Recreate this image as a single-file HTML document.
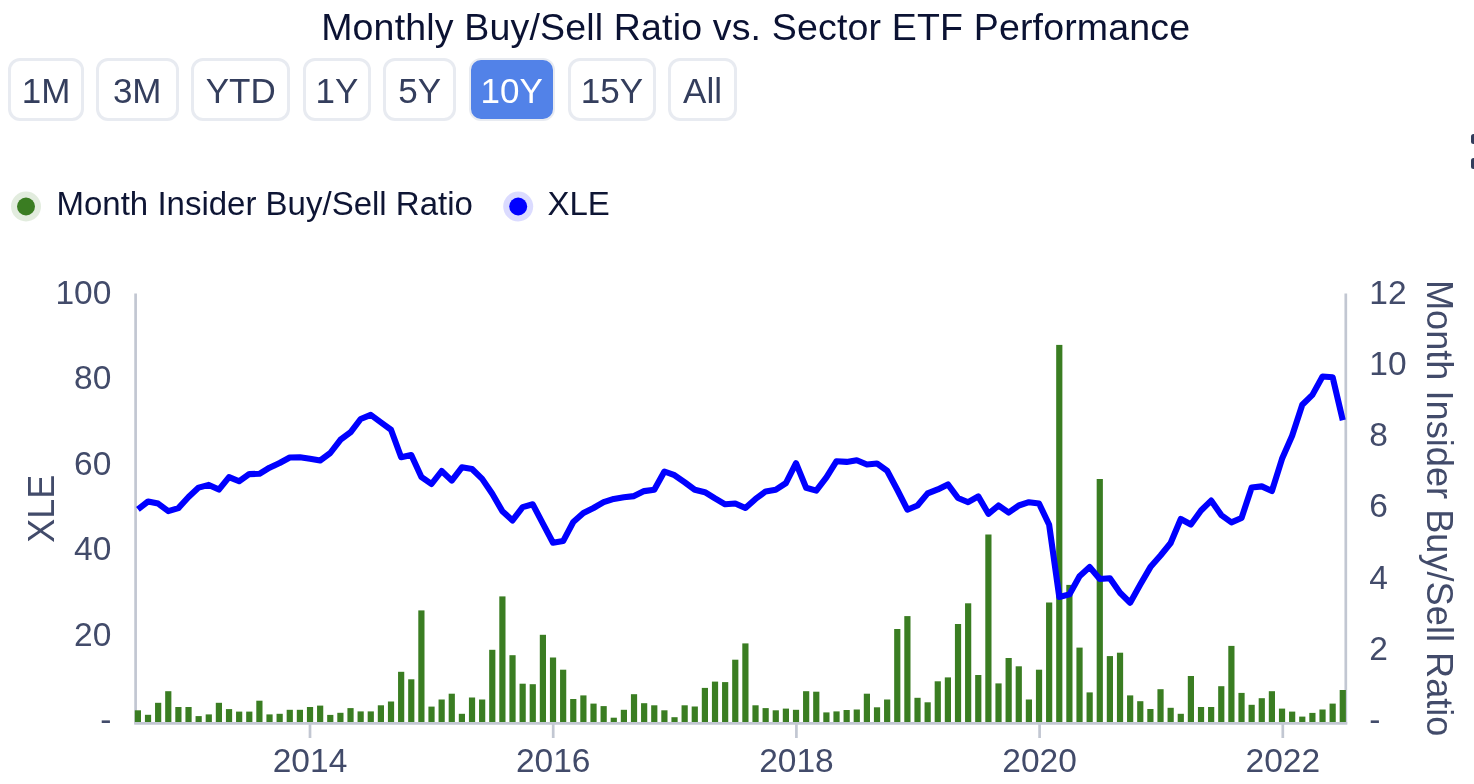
<!DOCTYPE html>
<html><head><meta charset="utf-8"><style>
html,body{margin:0;padding:0;background:#fff;width:1474px;height:784px;overflow:hidden;}
body{position:relative;font-family:"Liberation Sans", sans-serif;}
.btn{position:absolute;top:58.3px;height:63px;box-sizing:border-box;border:3px solid #e8ebf1;border-radius:12px;background:#fff;color:#343e5d;font-size:35px;text-align:center;}
.btn.act{background:#5282e8;color:#fff;border-width:2.2px;}
.hb{position:absolute;left:1471px;width:8px;height:10.5px;background:#333d5c;border-radius:2.5px;}
svg{position:absolute;left:0;top:0;will-change:transform;}
</style></head><body>
<div class="btn" style="left:8px;width:76.0px"></div><div class="btn" style="left:96px;width:82.5px"></div><div class="btn" style="left:191px;width:99.4px"></div><div class="btn" style="left:303.2px;width:67.4px"></div><div class="btn" style="left:383.4px;width:72.4px"></div><div class="btn act" style="left:468.6px;width:86.1px"></div><div class="btn" style="left:568.3px;width:87.3px"></div><div class="btn" style="left:668px;width:69.0px"></div>
<div class="hb" style="top:133.8px"></div>
<div class="hb" style="top:158.2px"></div>
<svg width="1474" height="784" viewBox="0 0 1474 784" font-family='"Liberation Sans", sans-serif'>
<text x="321.2" y="39.7" font-size="37.5" fill="#0b1233" letter-spacing="0.17">Monthly Buy/Sell Ratio vs. Sector ETF Performance</text>
<g font-size="35"><text x="46.0" y="103.0" text-anchor="middle" fill="#343e5d">1M</text><text x="137.2" y="103.0" text-anchor="middle" fill="#343e5d">3M</text><text x="240.7" y="103.0" text-anchor="middle" fill="#343e5d">YTD</text><text x="336.9" y="103.0" text-anchor="middle" fill="#343e5d">1Y</text><text x="419.6" y="103.0" text-anchor="middle" fill="#343e5d">5Y</text><text x="511.7" y="103.0" text-anchor="middle" fill="#ffffff">10Y</text><text x="612.0" y="103.0" text-anchor="middle" fill="#343e5d">15Y</text><text x="702.5" y="103.0" text-anchor="middle" fill="#343e5d">All</text></g>
<g>
<circle cx="26" cy="206.5" r="15" fill="#3a7d22" fill-opacity="0.15"/>
<circle cx="26" cy="206.5" r="9" fill="#3a7d22"/>
<text x="56.5" y="215.3" font-size="33" fill="#0e1534">Month Insider Buy/Sell Ratio</text>
<circle cx="518.2" cy="206.5" r="15" fill="#0000ff" fill-opacity="0.14"/>
<circle cx="518.2" cy="206.5" r="9" fill="#0000ff"/>
<text x="547.5" y="215.3" font-size="33" fill="#0e1534">XLE</text>
</g>
<g stroke="#c2c7d2" stroke-width="2.7">
<line x1="135.6" y1="293.5" x2="135.6" y2="723.8"/>
<line x1="1345.8" y1="293.5" x2="1345.8" y2="723.8"/>
<line x1="134.2" y1="723.4" x2="1347.3" y2="723.4" stroke-width="2.7"/>
<line x1="310.0" y1="722" x2="310.0" y2="738" stroke-width="2.7"/><line x1="553.2" y1="722" x2="553.2" y2="738" stroke-width="2.7"/><line x1="796.4" y1="722" x2="796.4" y2="738" stroke-width="2.7"/><line x1="1039.6" y1="722" x2="1039.6" y2="738" stroke-width="2.7"/><line x1="1282.8" y1="722" x2="1282.8" y2="738" stroke-width="2.7"/>
</g>
<g fill="#3a7d22"><rect x="134.80" y="710.3" width="6.2" height="11.7"/><rect x="144.93" y="714.8" width="6.2" height="7.2"/><rect x="155.05" y="702.8" width="6.2" height="19.2"/><rect x="165.18" y="691.2" width="6.2" height="30.8"/><rect x="175.30" y="707.0" width="6.2" height="15.0"/><rect x="185.43" y="707.0" width="6.2" height="15.0"/><rect x="195.55" y="716.1" width="6.2" height="5.9"/><rect x="205.68" y="714.4" width="6.2" height="7.6"/><rect x="215.80" y="702.8" width="6.2" height="19.2"/><rect x="225.93" y="709.1" width="6.2" height="12.9"/><rect x="236.05" y="711.6" width="6.2" height="10.4"/><rect x="246.18" y="711.6" width="6.2" height="10.4"/><rect x="256.30" y="700.7" width="6.2" height="21.3"/><rect x="266.42" y="714.4" width="6.2" height="7.6"/><rect x="276.55" y="713.8" width="6.2" height="8.2"/><rect x="286.67" y="709.8" width="6.2" height="12.2"/><rect x="296.80" y="709.8" width="6.2" height="12.2"/><rect x="306.92" y="707.0" width="6.2" height="15.0"/><rect x="317.05" y="705.6" width="6.2" height="16.4"/><rect x="327.17" y="714.9" width="6.2" height="7.1"/><rect x="337.30" y="712.8" width="6.2" height="9.2"/><rect x="347.42" y="708.1" width="6.2" height="13.9"/><rect x="357.55" y="711.4" width="6.2" height="10.6"/><rect x="367.67" y="711.4" width="6.2" height="10.6"/><rect x="377.80" y="705.3" width="6.2" height="16.7"/><rect x="387.92" y="701.5" width="6.2" height="20.5"/><rect x="398.05" y="671.8" width="6.2" height="50.2"/><rect x="408.17" y="679.3" width="6.2" height="42.7"/><rect x="418.30" y="610.4" width="6.2" height="111.6"/><rect x="428.42" y="706.6" width="6.2" height="15.4"/><rect x="438.55" y="699.5" width="6.2" height="22.5"/><rect x="448.67" y="693.7" width="6.2" height="28.3"/><rect x="458.80" y="713.8" width="6.2" height="8.2"/><rect x="468.92" y="697.5" width="6.2" height="24.5"/><rect x="479.05" y="699.5" width="6.2" height="22.5"/><rect x="489.17" y="649.8" width="6.2" height="72.2"/><rect x="499.30" y="596.4" width="6.2" height="125.6"/><rect x="509.42" y="655.2" width="6.2" height="66.8"/><rect x="519.55" y="683.7" width="6.2" height="38.3"/><rect x="529.67" y="684.2" width="6.2" height="37.8"/><rect x="539.80" y="634.8" width="6.2" height="87.2"/><rect x="549.92" y="657.5" width="6.2" height="64.5"/><rect x="560.05" y="669.7" width="6.2" height="52.3"/><rect x="570.17" y="699.0" width="6.2" height="23.0"/><rect x="580.30" y="695.4" width="6.2" height="26.6"/><rect x="590.42" y="703.6" width="6.2" height="18.4"/><rect x="600.55" y="706.1" width="6.2" height="15.9"/><rect x="610.67" y="717.7" width="6.2" height="4.3"/><rect x="620.80" y="709.8" width="6.2" height="12.2"/><rect x="630.92" y="694.2" width="6.2" height="27.8"/><rect x="641.05" y="703.2" width="6.2" height="18.8"/><rect x="651.17" y="705.3" width="6.2" height="16.7"/><rect x="661.30" y="710.3" width="6.2" height="11.7"/><rect x="671.42" y="717.2" width="6.2" height="4.8"/><rect x="681.55" y="705.3" width="6.2" height="16.7"/><rect x="691.67" y="706.5" width="6.2" height="15.5"/><rect x="701.80" y="687.9" width="6.2" height="34.1"/><rect x="711.92" y="681.6" width="6.2" height="40.4"/><rect x="722.05" y="682.1" width="6.2" height="39.9"/><rect x="732.17" y="659.7" width="6.2" height="62.3"/><rect x="742.30" y="643.4" width="6.2" height="78.6"/><rect x="752.42" y="705.3" width="6.2" height="16.7"/><rect x="762.55" y="708.1" width="6.2" height="13.9"/><rect x="772.67" y="710.3" width="6.2" height="11.7"/><rect x="782.80" y="708.6" width="6.2" height="13.4"/><rect x="792.92" y="709.8" width="6.2" height="12.2"/><rect x="803.05" y="691.2" width="6.2" height="30.8"/><rect x="813.17" y="691.7" width="6.2" height="30.3"/><rect x="823.30" y="712.4" width="6.2" height="9.6"/><rect x="833.42" y="711.4" width="6.2" height="10.6"/><rect x="843.55" y="710.0" width="6.2" height="12.0"/><rect x="853.67" y="709.5" width="6.2" height="12.5"/><rect x="863.80" y="693.7" width="6.2" height="28.3"/><rect x="873.92" y="707.3" width="6.2" height="14.7"/><rect x="884.05" y="699.5" width="6.2" height="22.5"/><rect x="894.17" y="629.0" width="6.2" height="93.0"/><rect x="904.30" y="616.1" width="6.2" height="105.9"/><rect x="914.42" y="697.8" width="6.2" height="24.2"/><rect x="924.55" y="702.3" width="6.2" height="19.7"/><rect x="934.67" y="681.3" width="6.2" height="40.7"/><rect x="944.80" y="677.4" width="6.2" height="44.6"/><rect x="954.92" y="624.0" width="6.2" height="98.0"/><rect x="965.05" y="603.3" width="6.2" height="118.7"/><rect x="975.17" y="675.0" width="6.2" height="47.0"/><rect x="985.30" y="534.5" width="6.2" height="187.5"/><rect x="995.42" y="683.4" width="6.2" height="38.6"/><rect x="1005.55" y="658.0" width="6.2" height="64.0"/><rect x="1015.67" y="666.3" width="6.2" height="55.7"/><rect x="1025.80" y="699.5" width="6.2" height="22.5"/><rect x="1035.93" y="669.7" width="6.2" height="52.3"/><rect x="1046.05" y="602.5" width="6.2" height="119.5"/><rect x="1056.18" y="344.9" width="6.2" height="377.1"/><rect x="1066.30" y="584.9" width="6.2" height="137.1"/><rect x="1076.43" y="647.6" width="6.2" height="74.4"/><rect x="1086.55" y="692.4" width="6.2" height="29.6"/><rect x="1096.68" y="479.0" width="6.2" height="243.0"/><rect x="1106.80" y="656.1" width="6.2" height="65.9"/><rect x="1116.93" y="652.7" width="6.2" height="69.3"/><rect x="1127.05" y="695.4" width="6.2" height="26.6"/><rect x="1137.18" y="701.2" width="6.2" height="20.8"/><rect x="1147.30" y="709.0" width="6.2" height="13.0"/><rect x="1157.43" y="689.2" width="6.2" height="32.8"/><rect x="1167.55" y="707.8" width="6.2" height="14.2"/><rect x="1177.68" y="713.8" width="6.2" height="8.2"/><rect x="1187.80" y="676.0" width="6.2" height="46.0"/><rect x="1197.93" y="707.0" width="6.2" height="15.0"/><rect x="1208.05" y="707.0" width="6.2" height="15.0"/><rect x="1218.18" y="686.2" width="6.2" height="35.8"/><rect x="1228.30" y="645.9" width="6.2" height="76.1"/><rect x="1238.43" y="692.9" width="6.2" height="29.1"/><rect x="1248.55" y="704.8" width="6.2" height="17.2"/><rect x="1258.68" y="698.2" width="6.2" height="23.8"/><rect x="1268.80" y="691.2" width="6.2" height="30.8"/><rect x="1278.93" y="708.6" width="6.2" height="13.4"/><rect x="1289.05" y="711.6" width="6.2" height="10.4"/><rect x="1299.18" y="716.6" width="6.2" height="5.4"/><rect x="1309.30" y="712.9" width="6.2" height="9.1"/><rect x="1319.43" y="709.5" width="6.2" height="12.5"/><rect x="1329.55" y="703.6" width="6.2" height="18.4"/><rect x="1339.68" y="690.0" width="6.2" height="32.0"/></g>

<polyline points="137.90,509.3 148.03,501.5 158.15,503.6 168.28,511.1 178.40,508.1 188.53,497.0 198.65,487.6 208.78,484.9 218.90,489.6 229.03,477.1 239.15,481.3 249.28,474.1 259.40,473.8 269.52,467.7 279.65,463.0 289.77,457.5 299.90,457.2 310.02,458.8 320.15,460.5 330.27,453.0 340.40,439.8 350.52,432.3 360.65,419.0 370.77,414.9 380.90,422.4 391.02,429.8 401.15,457.2 411.27,455.0 421.40,477.1 431.52,484.0 441.65,471.0 451.77,480.6 461.90,467.3 472.02,469.0 482.15,478.9 492.27,493.8 502.40,511.3 512.52,520.4 522.65,507.1 532.77,504.3 542.90,523.7 553.02,542.8 563.15,541.1 573.27,522.0 583.40,513.0 593.52,508.0 603.65,502.2 613.77,498.9 623.90,497.2 634.02,496.1 644.15,491.1 654.27,489.8 664.40,471.5 674.52,475.2 684.65,482.3 694.77,489.8 704.90,492.2 715.02,498.4 725.15,504.3 735.27,503.5 745.40,508.0 755.52,498.9 765.65,491.4 775.77,489.8 785.90,483.1 796.02,463.2 806.15,487.8 816.27,490.6 826.40,477.3 836.52,461.2 846.65,461.9 856.77,460.2 866.90,464.5 877.02,463.5 887.15,470.7 897.27,489.8 907.40,509.7 917.52,505.5 927.65,493.4 937.77,489.4 947.90,484.4 958.02,498.0 968.15,502.2 978.27,496.4 988.40,513.8 998.52,505.5 1008.65,512.6 1018.77,505.5 1028.90,502.2 1039.03,503.5 1049.15,524.8 1059.28,597.0 1069.40,594.4 1079.53,576.2 1089.65,567.1 1099.78,579.0 1109.90,578.2 1120.03,592.8 1130.15,602.7 1140.28,584.5 1150.40,567.1 1160.53,555.5 1170.65,543.0 1180.78,519.0 1190.90,524.5 1201.03,510.5 1211.15,500.6 1221.28,515.1 1231.40,522.4 1241.53,518.0 1251.65,487.5 1261.78,486.4 1271.90,491.0 1282.03,458.8 1292.15,435.8 1302.28,404.8 1312.40,394.9 1322.53,376.5 1332.65,377.2 1342.78,420.2" fill="none" stroke="#0000ff" stroke-width="6.1" stroke-linejoin="round" stroke-linecap="butt"/>
<g font-size="33.5" fill="#424b6a">
<text x="111.3" y="303.5" text-anchor="end">100</text><text x="111.3" y="389.0" text-anchor="end">80</text><text x="111.3" y="474.5" text-anchor="end">60</text><text x="111.3" y="560.0" text-anchor="end">40</text><text x="111.3" y="645.5" text-anchor="end">20</text><text x="111.3" y="731.0" text-anchor="end">-</text><text x="1369.3" y="303.5">12</text><text x="1369.3" y="374.8">10</text><text x="1369.3" y="446.0">8</text><text x="1369.3" y="517.3">6</text><text x="1369.3" y="588.5">4</text><text x="1369.3" y="659.8">2</text><text x="1369.3" y="731.0">-</text>
<text x="310.0" y="771.6" text-anchor="middle">2014</text><text x="553.2" y="771.6" text-anchor="middle">2016</text><text x="796.4" y="771.6" text-anchor="middle">2018</text><text x="1039.6" y="771.6" text-anchor="middle">2020</text><text x="1282.8" y="771.6" text-anchor="middle">2022</text>
</g>
<g font-size="36.2" fill="#424b6a">
<text transform="translate(54,508.8) rotate(-90)" text-anchor="middle" font-size="36">XLE</text>
<text transform="translate(1427,508.2) rotate(90)" text-anchor="middle">Month Insider Buy/Sell Ratio</text>
</g>
</svg>
</body></html>
